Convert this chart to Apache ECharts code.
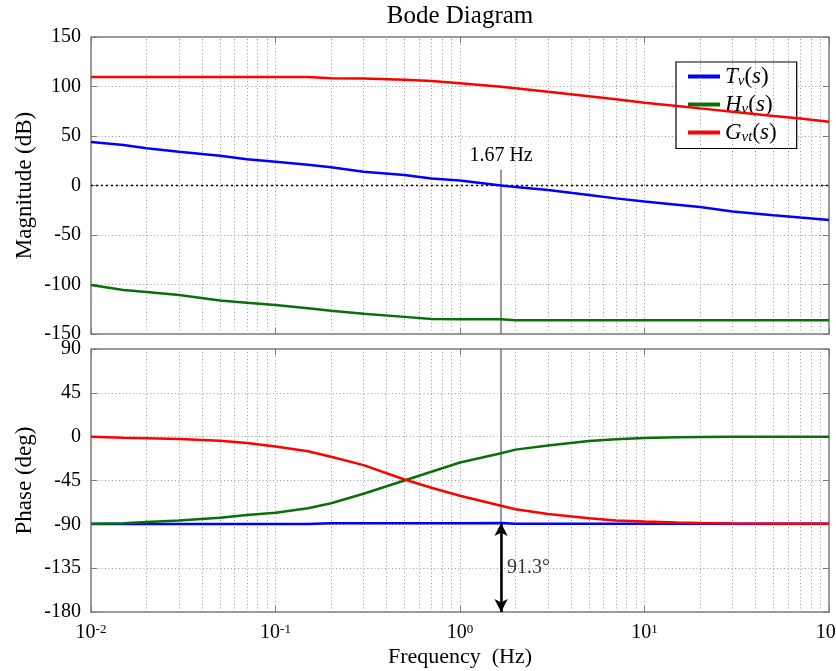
<!DOCTYPE html>
<html>
<head>
<meta charset="utf-8">
<title>Bode Diagram</title>
<script src="https://cdn.jsdelivr.net/npm/echarts@6/dist/echarts.min.js"></script>
<style>
  html, body { margin: 0; padding: 0; background: #fff; }
  #bode { width: 836px; height: 671px; }
</style>
</head>
<body>
<div id="bode"></div>
<script>
// Bode diagram - Tv(s), Hv(s), Gvt(s): magnitude (top) + phase (bottom)

// frequency points (Hz)
const freq = [0.01, 0.015, 0.02, 0.03, 0.05, 0.07, 0.1, 0.15, 0.2, 0.3, 0.5, 0.7,
              1, 1.67, 2, 3, 5, 7, 10, 15, 20, 30, 50, 70, 100];

// magnitude (dB)
const tvMag  = [43.9, 41, 37.6, 34, 30, 26.5, 24.1, 21, 18.4, 14, 10.6, 7,
                5, 0, -1.5, -4.5, -9.6, -13, -16.2, -19.4, -21.8, -26.2, -30, -32.4, -34.8];
const hvMag  = [-100.5, -105.5, -107.5, -110.6, -116.2, -118.4, -120.7, -123.9, -126.5, -129.5, -132.7, -134.8,
                -135, -135.2, -136, -136, -136, -136, -136, -136, -136, -136, -136, -136, -136];
const gvtMag = [109.5, 109.5, 109.5, 109.5, 109.5, 109.5, 109.5, 109.5, 108.3, 108.1, 106.9, 105.5,
                103.2, 99.8, 98.2, 94.6, 90.1, 87.1, 83.5, 80.4, 77.9, 74.5, 70.3, 67.6, 64.4];

// phase (deg)
const tvPh  = [-89.7, -89.7, -89.7, -89.7, -89.7, -89.7, -89.7, -89.7, -89, -89, -89, -88.9,
               -88.8, -88.7, -89.4, -89.4, -89.4, -89.4, -89.4, -89.4, -89.4, -89.4, -89.4, -89.4, -89.4];
const hvPh  = [-89.5, -88.8, -87.5, -86, -83.2, -80.5, -78, -73.5, -68.4, -58.6, -45, -36,
               -26.5, -17.1, -13.3, -9, -4.5, -2.6, -1.4, -0.7, -0.3, 0, 0, 0, 0];
const gvtPh = [0, -1, -1.6, -2.5, -4.1, -6.5, -10, -15, -20.6, -29.2, -44, -52.5,
               -60.7, -70.9, -74.5, -79.5, -83.7, -86, -87, -88, -88.6, -89.2, -89.3, -89.4, -89.4];

// crossover annotation
const crossFreq = 1.67;
const crossPhase = -88.7;
const phaseMargin = 91.3;

const seriesNames = ['Tv(s)', 'Hv(s)', 'Gvt(s)'];
const seriesColors = ['#0000ff', '#0b6e0b', '#ff0000'];

const FONT = 'Liberation Serif';
const GRID_COLOR = '#9a9a9a';
const FRAME_COLOR = '#7a7a7a';

// log grid minor lines 2..9 x 10^k
const minorFreqs = [];
for (let e = -2; e < 2; e++) {
  for (let m = 2; m <= 9; m++) minorFreqs.push(m * Math.pow(10, e));
}

const legendText = {
  'Tv(s)':  '{i|T}{sub|v}{n|(}{i|s}{n|)}',
  'Hv(s)':  '{i|H}{sub|v}{n|(}{i|s}{n|)}',
  'Gvt(s)': '{i|G}{sub|vt}{n|(}{i|s}{n|)}'
};

const chart = echarts.init(document.getElementById('bode'));

function freqAxis(gridIndex, position, showLabels) {
  return {
    type: 'log', logBase: 10, gridIndex: gridIndex, position: position,
    min: 0.01, max: 100,
    axisLine: { show: false, onZero: false },
    axisTick: { show: true, inside: true, length: 6, lineStyle: { color: FRAME_COLOR } },
    axisLabel: {
      show: showLabels, margin: 11, fontFamily: FONT, color: '#000',
      formatter: v => '{b|10}{s|' + Math.round(Math.log10(v)) + '}',
      rich: {
        b: { fontFamily: FONT, fontSize: 20, color: '#000' },
        s: { fontFamily: FONT, fontSize: 13, color: '#000', verticalAlign: 'top' }
      }
    },
    splitLine: { show: position === 'bottom', lineStyle: { color: GRID_COLOR, type: [1, 2.5], width: 1 } },
    name: showLabels ? 'Frequency  (Hz)' : '',
    nameLocation: 'middle', nameGap: 34, nameMoveOverlap: false,
    nameTextStyle: { fontFamily: FONT, fontSize: 22, color: '#000' }
  };
}

function valAxis(gridIndex, position, min, max, step, name) {
  const left = position === 'left';
  return {
    type: 'value', gridIndex: gridIndex, position: position,
    min: min, max: max, interval: step,
    axisLine: { show: false, onZero: false },
    axisTick: { show: true, inside: true, length: 6, lineStyle: { color: FRAME_COLOR } },
    axisLabel: { show: left, margin: 10, fontFamily: FONT, fontSize: 20, color: '#000' },
    splitLine: { show: left, lineStyle: { color: GRID_COLOR, type: [1, 2.5], width: 1 } },
    name: left ? name : '',
    nameLocation: 'middle', nameGap: 55, nameRotate: 90, nameMoveOverlap: false,
    nameTextStyle: { fontFamily: FONT, fontSize: 23, color: '#000' }
  };
}

function curve(i, grid, values) {
  return {
    name: seriesNames[i], type: 'line',
    xAxisIndex: grid, yAxisIndex: grid,
    data: freq.map((f, k) => [f, values[k]]),
    showSymbol: false, smooth: false, z: 5,
    color: seriesColors[i],
    lineStyle: { color: seriesColors[i], width: 2.5 }
  };
}

function minorGrid(grid) {
  return {
    type: 'line', xAxisIndex: grid, yAxisIndex: grid, data: [], silent: true, z: 1,
    markLine: {
      silent: true, symbol: 'none', animation: false,
      label: { show: false },
      lineStyle: { color: GRID_COLOR, type: [1, 2.5], width: 1 },
      data: minorFreqs.map(f => ({ xAxis: f }))
    }
  };
}

const option = {
  animation: false,
  backgroundColor: '#fff',
  textStyle: { fontFamily: FONT },
  title: {
    text: 'Bode Diagram', left: 460, top: 4, textAlign: 'center', padding: 0,
    textStyle: { fontFamily: FONT, fontSize: 25, fontWeight: 'normal', color: '#000' }
  },
  grid: [
    { left: 91, right: 7, top: 37, height: 297, show: true, borderColor: FRAME_COLOR, borderWidth: 1.5,
      outerBoundsMode: 'none' },
    { left: 91, right: 7, top: 349, height: 263, show: true, borderColor: FRAME_COLOR, borderWidth: 1.5,
      outerBoundsMode: 'none' }
  ],
  xAxis: [
    freqAxis(0, 'bottom', false),
    freqAxis(1, 'bottom', true),
    freqAxis(0, 'top', false),
    freqAxis(1, 'top', false)
  ],
  yAxis: [
    valAxis(0, 'left', -150, 150, 50, 'Magnitude (dB)'),
    valAxis(1, 'left', -180, 90, 45, 'Phase (deg)'),
    valAxis(0, 'right', -150, 150, 50, ''),
    valAxis(1, 'right', -180, 90, 45, '')
  ],
  legend: {
    data: seriesNames,
    orient: 'vertical', left: 676, top: 62,
    backgroundColor: '#fff', borderColor: '#000', borderWidth: 1.2, borderRadius: 0,
    padding: [3, 20, 4, 12], itemGap: 4.5,
    itemWidth: 32, itemHeight: 4, icon: 'rect',
    formatter: n => legendText[n],
    textStyle: {
      fontFamily: FONT, color: '#000',
      rich: {
        i:   { fontFamily: FONT, fontStyle: 'italic', fontSize: 23, lineHeight: 24, color: '#000' },
        n:   { fontFamily: FONT, fontSize: 23, lineHeight: 24, color: '#000' },
        sub: { fontFamily: FONT, fontStyle: 'italic', fontSize: 15, color: '#000', verticalAlign: 'bottom' }
      }
    }
  },
  series: [
    minorGrid(0),
    minorGrid(1),
    {
      type: 'line', xAxisIndex: 0, yAxisIndex: 0, data: [], silent: true, z: 2,
      markLine: {
        silent: true, symbol: 'none', animation: false,
        data: [
          { yAxis: 0, label: { show: false }, lineStyle: { color: '#000', type: [2, 3], width: 1.3 } },
          [
            { coord: [crossFreq, 16],
              lineStyle: { color: '#777', type: 'solid', width: 1.5 },
              label: { show: true, position: 'start', distance: 4, formatter: crossFreq + ' Hz',
                       fontFamily: FONT, fontSize: 20, color: '#000' } },
            { coord: [crossFreq, -150] }
          ]
        ]
      }
    },
    {
      type: 'line', xAxisIndex: 1, yAxisIndex: 1, data: [], silent: true, z: 2,
      markLine: {
        silent: true, symbol: 'none', animation: false, label: { show: false },
        data: [
          [{ coord: [crossFreq, 90], lineStyle: { color: '#777', type: 'solid', width: 1.5 } },
           { coord: [crossFreq, -180] }]
        ]
      }
    },
    curve(0, 0, tvMag),
    curve(1, 0, hvMag),
    curve(2, 0, gvtMag),
    curve(0, 1, tvPh),
    curve(1, 1, hvPh),
    curve(2, 1, gvtPh),
    {
      type: 'line', xAxisIndex: 1, yAxisIndex: 1, data: [], silent: true, z: 6,
      markLine: {
        silent: true, symbol: ['arrow', 'arrow'], symbolSize: [10, 13], animation: false,
        label: { show: false },
        lineStyle: { color: '#000', type: 'solid', width: 2.5 },
        data: [[{ coord: [crossFreq, crossPhase] }, { coord: [crossFreq, -180] }]]
      }
    },
    {
      type: 'scatter', xAxisIndex: 1, yAxisIndex: 1, silent: true, z: 6,
      symbolSize: 0,
      data: [[crossFreq, (crossPhase - 180) / 2]],
      label: {
        show: true, position: 'right', distance: 6,
        formatter: phaseMargin + '°',
        fontFamily: FONT, fontSize: 20, color: '#000'
      }
    }
  ]
};

chart.setOption(option);
</script>
</body>
</html>
